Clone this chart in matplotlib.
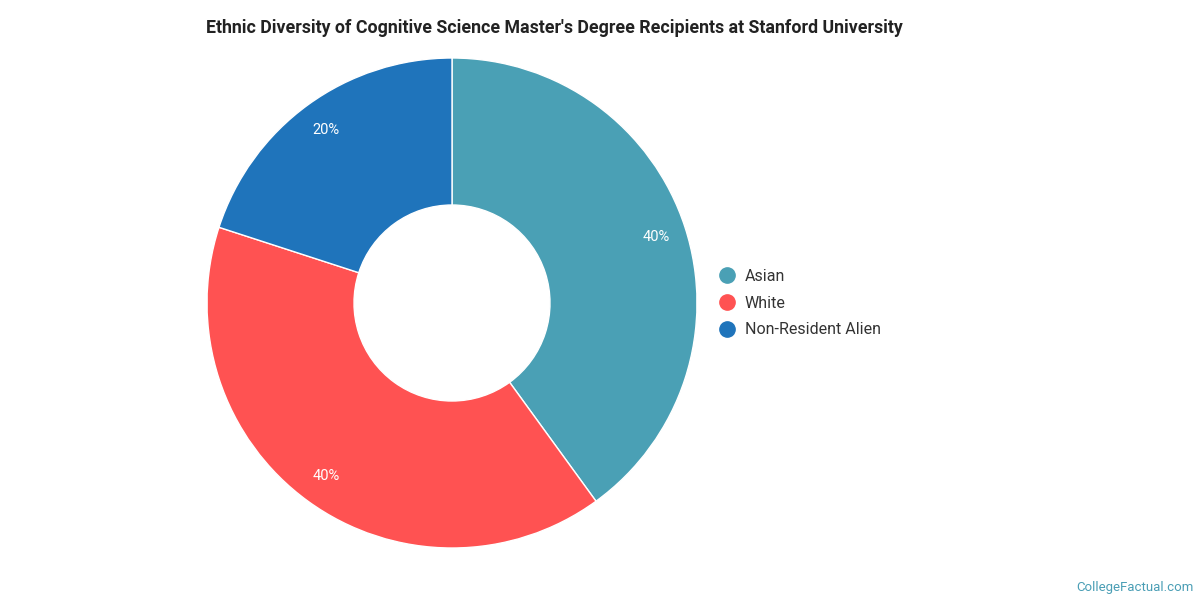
import matplotlib
matplotlib.use("Agg")
import matplotlib.pyplot as plt
from matplotlib.lines import Line2D
import numpy as np

categories = ["Asian", "White", "Non-Resident Alien"]
values = [40, 40, 20]
labels = ["40%", "40%", "20%"]
colors = ["#4AA0B5", "#FF5252", "#1F74BB"]

plt.rcParams['font.family'] = ['Roboto', 'DejaVu Sans']
fig = plt.figure(figsize=(12, 6), dpi=100)
ax = fig.add_axes([(452-245)/1200, (297-245)/600, 490/1200, 490/600])
wedges, _ = ax.pie(values, colors=colors, startangle=90, counterclock=False,
                   radius=1, wedgeprops=dict(width=0.6, edgecolor="white", linewidth=1))
cum = 0
for v, lab in zip(values, labels):
    mid = 90 - (cum + v/2) / sum(values) * 360
    cum += v
    r = 0.875
    ax.text(r*np.cos(np.radians(mid)), r*np.sin(np.radians(mid)), lab,
            ha="center", va="center", color="white", fontsize=10.5)
ax.set_xlim(-1, 1); ax.set_ylim(-1, 1)
ax.set_aspect("equal")
ax.axis("off")

fig.text(206/1200, 1-28/600, "Ethnic Diversity of Cognitive Science Master's Degree Recipients at Stanford University",
         ha="left", va="center", fontsize=12.8, fontweight="bold", color="#222222")

handles = [Line2D([0], [0], marker="o", linestyle="", markersize=11,
                  markerfacecolor=c, markeredgecolor=c) for c in colors]
fig.legend(handles, categories, loc="center left", bbox_to_anchor=(697/1200, 1-303/600),
           frameon=False, fontsize=11.5, handletextpad=0.1, labelspacing=0.75,
           labelcolor="#333333")

fig.text(1194/1200, 1-587/600, "CollegeFactual.com", ha="right", va="center",
         fontsize=9.5, color="#4A9EB5")
fig.savefig("out.png", dpi=100, facecolor="white")
